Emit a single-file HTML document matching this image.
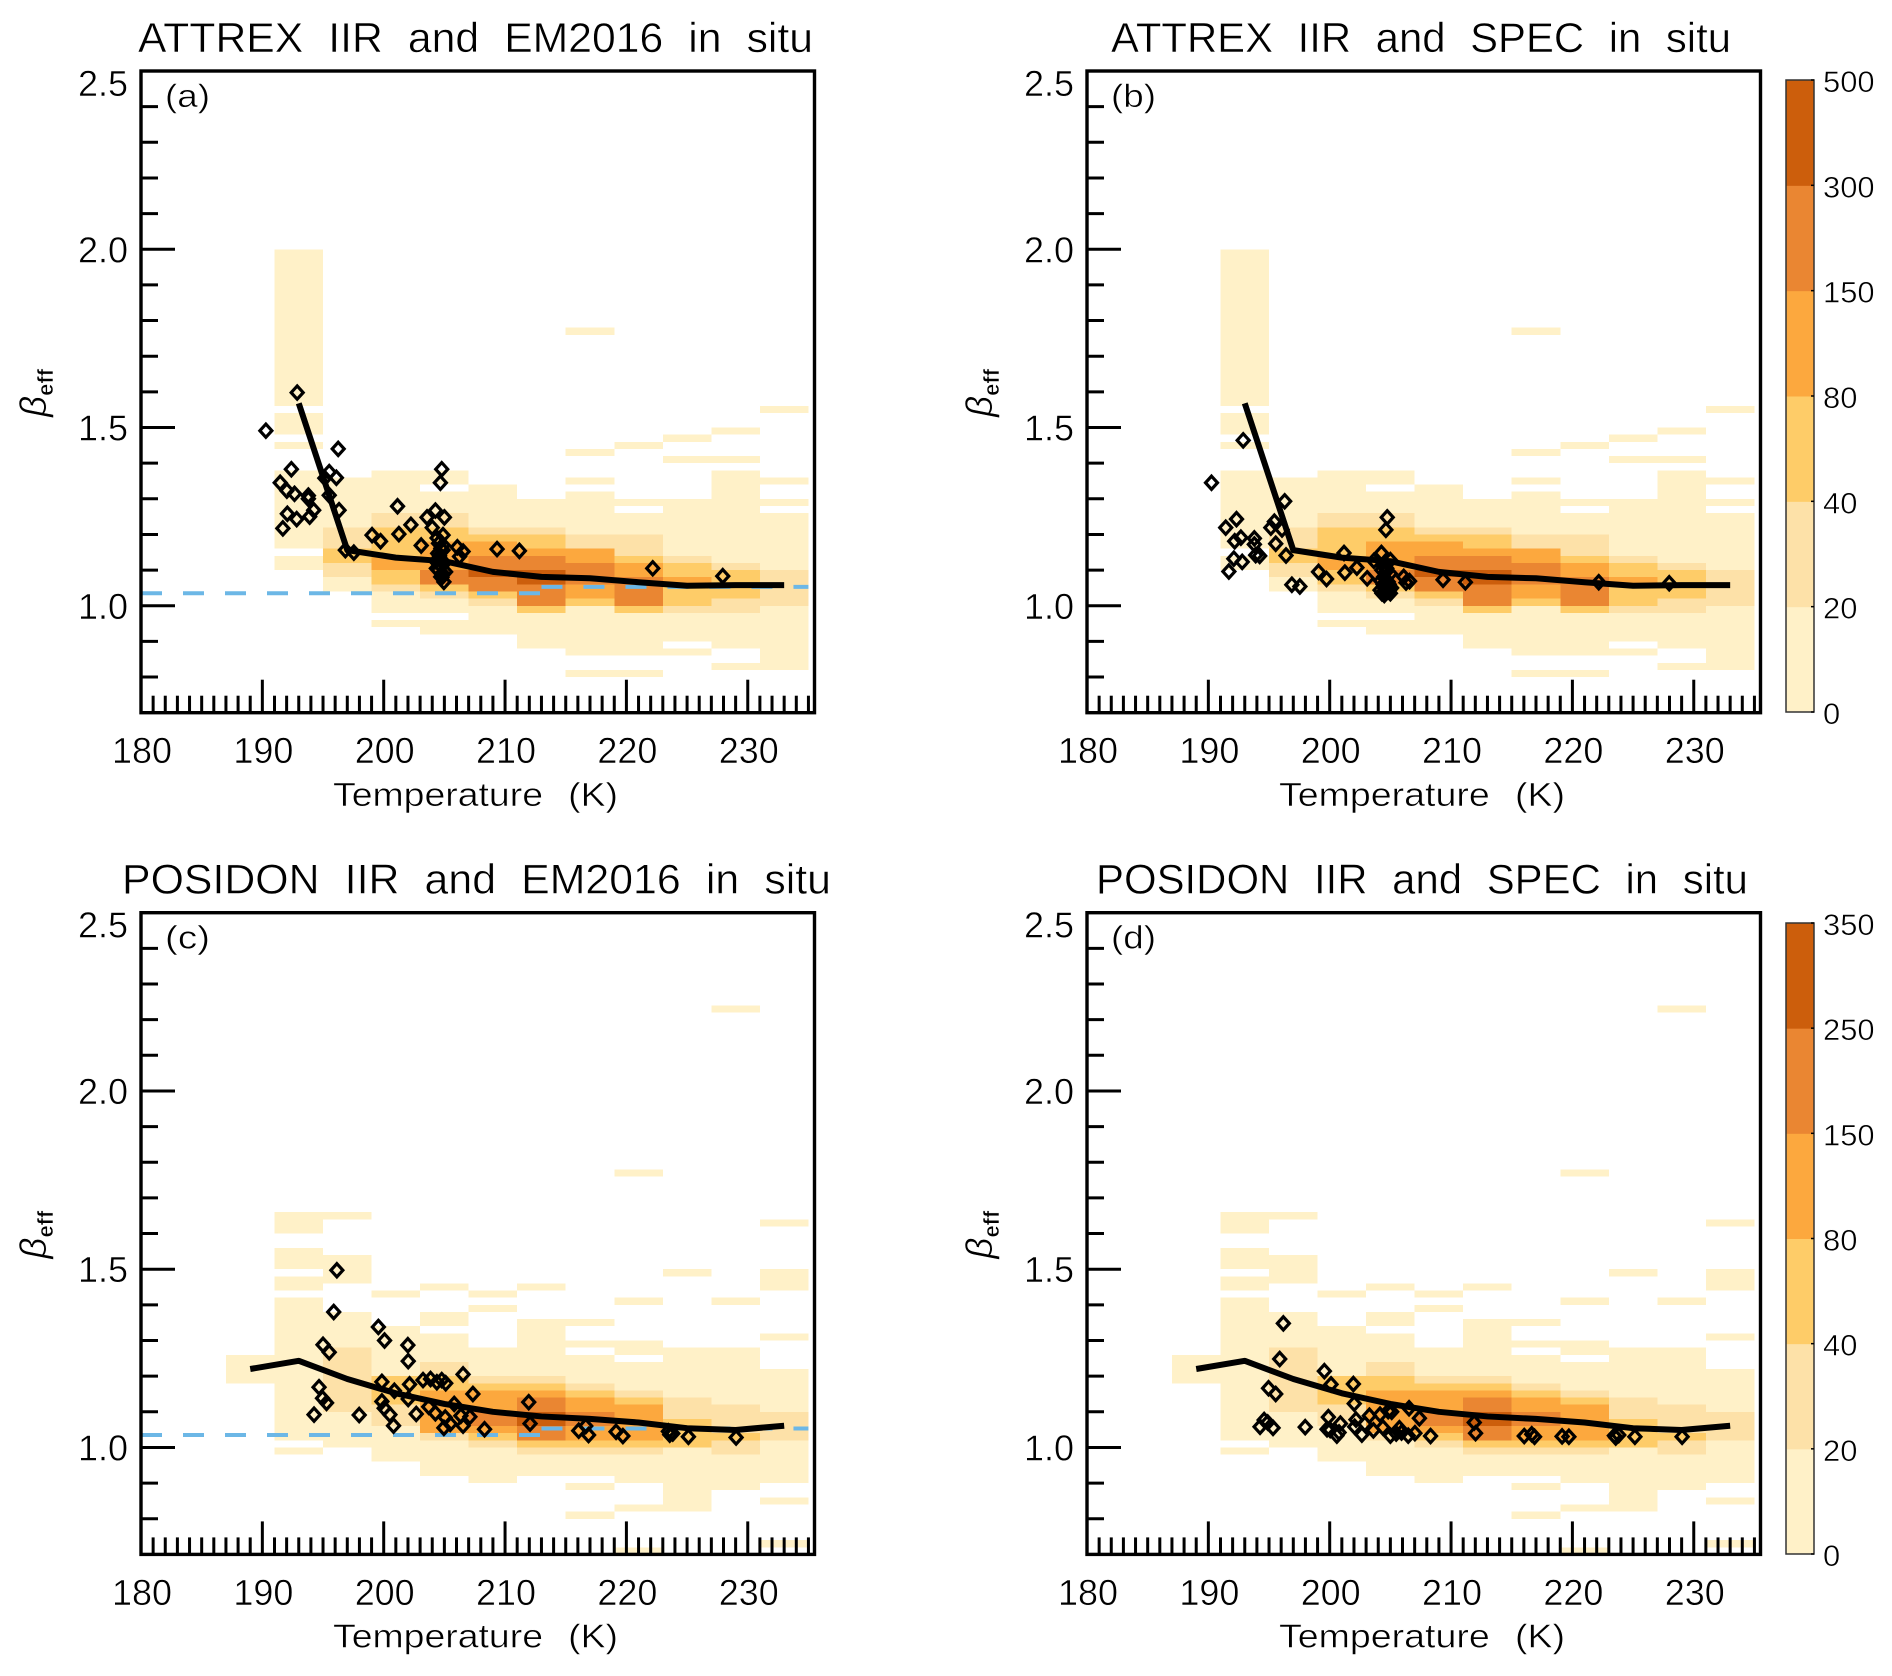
<!DOCTYPE html>
<html lang="en">
<head>
<meta charset="utf-8">
<title>ATTREX and POSIDON IIR and in situ effective beta versus temperature</title>
<style>
html,body{margin:0;padding:0;background:#fff;}
svg{display:block;}
text{font-family:"Liberation Sans",sans-serif;fill:#000;stroke:#fff;stroke-width:.5;paint-order:normal;}
.wide{word-spacing:13px;}
</style>
</head>
<body>
<svg id="figure" width="1892" height="1676" viewBox="0 0 1892 1676" xmlns="http://www.w3.org/2000/svg">
  <rect x="0" y="0" width="1892" height="1676" fill="#fff"/>

  <g id="panel-a"></g>
  <g id="panel-b"></g>
  <g id="panel-c"></g>
  <g id="panel-d"></g>
  <g id="colorbar-attrex"></g>
  <g id="colorbar-posidon"></g>

  <text class="wide" x="138" y="52" font-size="42" textLength="675" lengthAdjust="spacingAndGlyphs">ATTREX IIR and EM2016 in situ</text>
  <text class="wide" x="1111" y="52" font-size="42" textLength="620" lengthAdjust="spacingAndGlyphs">ATTREX IIR and SPEC in situ</text>
  <text class="wide" x="122" y="893.7" font-size="42" textLength="709" lengthAdjust="spacingAndGlyphs">POSIDON IIR and EM2016 in situ</text>
  <text class="wide" x="1096" y="893.7" font-size="42" textLength="652" lengthAdjust="spacingAndGlyphs">POSIDON IIR and SPEC in situ</text>

  <text x="165" y="107" font-size="32" textLength="45" lengthAdjust="spacingAndGlyphs">(a)</text>
  <text x="1111" y="107" font-size="32" textLength="45" lengthAdjust="spacingAndGlyphs">(b)</text>
  <text x="165" y="948.7" font-size="32" textLength="45" lengthAdjust="spacingAndGlyphs">(c)</text>
  <text x="1111" y="948.7" font-size="32" textLength="45" lengthAdjust="spacingAndGlyphs">(d)</text>

  <text class="wide" x="333" y="806" font-size="33" textLength="285" lengthAdjust="spacingAndGlyphs">Temperature (K)</text>
  <text class="wide" x="1279" y="806" font-size="33" textLength="286" lengthAdjust="spacingAndGlyphs">Temperature (K)</text>
  <text class="wide" x="333" y="1647.7" font-size="33" textLength="285" lengthAdjust="spacingAndGlyphs">Temperature (K)</text>
  <text class="wide" x="1279" y="1647.7" font-size="33" textLength="286" lengthAdjust="spacingAndGlyphs">Temperature (K)</text>

  <text transform="translate(46 417) rotate(-90)" font-size="37"><tspan font-style="italic">β</tspan><tspan font-size="22" dy="7" font-weight="bold">eff</tspan></text>
  <text transform="translate(992 417) rotate(-90)" font-size="37"><tspan font-style="italic">β</tspan><tspan font-size="22" dy="7" font-weight="bold">eff</tspan></text>
  <text transform="translate(46 1258.7) rotate(-90)" font-size="37"><tspan font-style="italic">β</tspan><tspan font-size="22" dy="7" font-weight="bold">eff</tspan></text>
  <text transform="translate(992 1258.7) rotate(-90)" font-size="37"><tspan font-style="italic">β</tspan><tspan font-size="22" dy="7" font-weight="bold">eff</tspan></text>
</svg>

<script>
/* ---------- axis tick labels ---------- */
var xTickLabels = [180, 190, 200, 210, 220, 230];
var yTickLabels = ["1.0", "1.5", "2.0", "2.5"];

/* ---------- heatmap bins: lower edge of each 4 K temperature bin ---------- */
var attrexTempBins = [191, 195, 199, 203, 207, 211, 215, 219, 223, 227, 231];
var posidonTempBins = [187, 191, 195, 199, 203, 207, 211, 215, 219, 223, 227, 231];

/* each row: [beta upper, beta lower, pixel count] */
var attrexHeatRows = [
  [[2.00,1.56,10],[1.54,1.48,10],[1.46,1.44,10],[1.38,1.16,10],[1.14,1.10,10]],
  [[1.36,1.22,10],[1.22,1.16,30],[1.16,1.12,60],[1.12,1.08,30],[1.08,1.04,10]],
  [[1.38,1.26,10],[1.26,1.22,30],[1.22,1.14,60],[1.14,1.10,110],[1.10,1.06,60],[1.06,1.04,30],[1.04,0.98,10],[0.96,0.94,10]],
  [[1.38,1.34,10],[1.32,1.26,10],[1.26,1.22,30],[1.22,1.18,60],[1.18,1.10,110],[1.10,1.06,220],[1.06,1.04,60],[1.04,1.02,30],[1.02,0.98,10],[0.96,0.92,10]],
  [[1.34,1.22,10],[1.22,1.20,30],[1.20,1.18,60],[1.18,1.14,110],[1.14,1.10,220],[1.10,1.08,400],[1.08,1.04,220],[1.04,1.02,60],[1.02,1.00,30],[1.00,0.92,10]],
  [[1.30,1.22,10],[1.22,1.20,30],[1.20,1.16,60],[1.16,1.14,110],[1.14,1.10,220],[1.10,1.06,400],[1.06,1.00,220],[1.00,0.98,60],[0.98,0.88,10]],
  [[1.78,1.76,10],[1.44,1.42,10],[1.36,1.34,10],[1.32,1.20,10],[1.20,1.16,30],[1.16,1.12,110],[1.12,1.06,220],[1.06,1.02,110],[1.02,1.00,60],[1.00,0.86,10],[0.82,0.80,10]],
  [[1.46,1.44,10],[1.30,1.28,10],[1.26,1.20,10],[1.20,1.14,30],[1.14,1.12,60],[1.12,1.08,110],[1.08,1.00,220],[1.00,0.98,60],[0.98,0.86,10],[0.82,0.80,10]],
  [[1.48,1.46,10],[1.42,1.40,10],[1.30,1.14,10],[1.14,1.12,30],[1.12,1.08,60],[1.08,1.06,110],[1.06,1.00,60],[1.00,0.98,30],[0.98,0.90,10],[0.88,0.86,10]],
  [[1.50,1.48,10],[1.42,1.40,10],[1.38,1.12,10],[1.12,1.10,30],[1.10,1.02,60],[1.02,0.98,30],[0.98,0.88,10],[0.84,0.82,10]],
  [[1.56,1.54,10],[1.36,1.34,10],[1.30,1.28,10],[1.26,1.10,10],[1.10,1.00,30],[1.00,0.82,10]]
];

var posidonHeatRows = [
  [[1.26,1.18,10]],
  [[1.66,1.60,10],[1.56,1.50,10],[1.48,1.44,10],[1.42,1.02,10],[1.00,0.98,10]],
  [[1.66,1.64,10],[1.54,1.46,10],[1.38,1.28,10],[1.28,1.10,30],[1.10,1.00,10]],
  [[1.44,1.42,10],[1.34,1.20,10],[1.20,1.12,60],[1.12,1.06,30],[1.06,0.96,10]],
  [[1.46,1.44,10],[1.38,1.34,10],[1.32,1.24,10],[1.24,1.20,30],[1.20,1.16,60],[1.16,1.04,110],[1.04,1.02,30],[1.02,0.92,10]],
  [[1.44,1.42,10],[1.40,1.38,10],[1.28,1.20,10],[1.20,1.18,30],[1.18,1.16,60],[1.16,1.10,110],[1.10,1.06,200],[1.06,1.04,110],[1.04,1.02,60],[1.02,1.00,30],[1.00,0.90,10]],
  [[1.46,1.44,10],[1.36,1.20,10],[1.20,1.18,30],[1.18,1.16,60],[1.16,1.14,110],[1.14,1.10,200],[1.10,1.06,300],[1.06,1.02,200],[1.02,1.00,60],[1.00,0.98,30],[0.98,0.92,10]],
  [[1.36,1.34,10],[1.30,1.28,10],[1.26,1.18,10],[1.18,1.16,30],[1.16,1.14,60],[1.14,1.10,110],[1.10,1.06,200],[1.06,1.02,110],[1.02,1.00,60],[1.00,0.98,30],[0.98,0.92,10],[0.90,0.88,10],[0.82,0.80,10]],
  [[1.78,1.76,10],[1.42,1.40,10],[1.30,1.26,10],[1.24,1.16,10],[1.16,1.14,30],[1.14,1.12,60],[1.12,1.02,110],[1.02,1.00,60],[1.00,0.98,30],[0.98,0.90,10],[0.84,0.82,10],[0.72,0.70,10]],
  [[1.50,1.48,10],[1.28,1.14,10],[1.14,1.08,30],[1.08,1.00,60],[1.00,0.82,10]],
  [[2.24,2.22,10],[1.42,1.40,10],[1.28,1.12,10],[1.12,1.04,30],[1.04,1.02,60],[1.02,0.98,30],[0.98,0.88,10]],
  [[1.64,1.62,10],[1.50,1.44,10],[1.32,1.30,10],[1.22,1.10,10],[1.10,1.02,30],[1.02,0.90,10],[0.86,0.84,10],[0.74,0.72,10]]
];

/* ---------- colour scale levels ---------- */
var attrexLevels = [0, 20, 40, 80, 150, 300, 500];
var posidonLevels = [0, 20, 40, 80, 150, 250, 350];
var levelColors = ["#FFF1C8", "#FDE1A8", "#FECC68", "#FCA83E", "#EA8632", "#CC5E0C"];

/* ---------- mean lines ---------- */
var attrexLineTemps = [193, 197, 201, 205, 209, 213, 217, 221, 225, 229, 233];
var attrexLineBetas = [1.568, 1.156, 1.135, 1.125, 1.095, 1.081, 1.077, 1.066, 1.056, 1.058, 1.058];
var posidonLineTemps = [189, 193, 197, 201, 205, 209, 213, 217, 221, 225, 229, 233];
var posidonLineBetas = [1.22, 1.243, 1.192, 1.152, 1.122, 1.10, 1.087, 1.08, 1.07, 1.054, 1.049, 1.061];

/* ---------- blue dashed reference line (two pieces) ---------- */
var dashedTempsLow = [180, 213];
var dashedBetasLow = [1.035, 1.035];
var dashedTempsHigh = [213, 235];
var dashedBetasHigh = [1.053, 1.053];

/* ---------- in situ scatter points ---------- */
var pointsATemps = [192.87,190.29,196.25,192.39,191.47,195.51,195.15,196.10,192.02,192.65,193.79,193.79,195.51,196.32,194.23,192.06,193.90,192.83,191.69,201.14,199.04,199.74,201.25,202.24,203.09,203.57,204.26,205.0,204.0,204.78,204.67,204.89,204.52,204.71,204.45,204.63,204.52,204.34,204.82,204.96,204.7,204.89,206.07,206.54,206.25,209.34,211.18,222.17,227.94,196.84,197.54,204.4,204.9,204.6,205.0,204.5,204.8,204.3,205.1];
var pointsABetas = [1.598,1.491,1.440,1.383,1.345,1.375,1.358,1.359,1.323,1.314,1.309,1.300,1.310,1.268,1.268,1.258,1.250,1.243,1.217,1.279,1.198,1.181,1.201,1.227,1.169,1.248,1.267,1.248,1.219,1.383,1.345,1.198,1.175,1.161,1.147,1.133,1.119,1.105,1.091,1.067,1.081,1.156,1.164,1.152,1.138,1.159,1.154,1.105,1.083,1.156,1.149,1.19,1.17,1.14,1.12,1.10,1.08,1.125,1.095];

var pointsBTemps = [192.87,190.26,196.29,192.32,191.43,195.44,195.15,196.07,192.68,192.17,193.79,193.79,195.55,196.40,193.90,194.23,192.10,192.79,191.69,196.88,197.54,201.18,202.24,199.08,199.74,201.25,203.09,204.26,204.74,204.63,203.64,205,204.45,204.63,204.45,204.82,204.45,205,204.15,204.82,204.52,206.1,206.58,206.29,209.34,211.18,222.17,227.98,204.3,204.7,205.0,204.2,204.6,204.9,204.4,205.1,204.8,204.5,204.3];
var pointsBBetas = [1.464,1.345,1.293,1.243,1.219,1.236,1.219,1.214,1.191,1.181,1.189,1.172,1.174,1.141,1.142,1.140,1.132,1.123,1.096,1.059,1.054,1.148,1.107,1.095,1.075,1.093,1.077,1.148,1.248,1.213,1.126,1.128,1.11,1.095,1.081,1.067,1.053,1.035,1.044,1.049,1.039,1.081,1.069,1.065,1.073,1.066,1.066,1.063,1.10,1.105,1.09,1.07,1.075,1.06,1.06,1.05,1.04,1.03,1.035];

var pointsCTemps = [196.14,195.88,199.56,200.07,201.99,202.02,195.0,195.51,206.54,203.24,203.86,204.38,204.78,205.11,199.85,200.88,202.13,207.35,194.67,194.96,195.29,194.26,197.98,199.85,200.04,200.51,200.81,202.02,202.68,203.71,204.26,205.07,205.81,205.48,204.96,206.54,206.36,207.1,208.31,211.95,212.06,216.07,216.65,216.88,219.15,219.71,223.46,223.82,223.57,225.11,229.04];
var pointsCBetas = [1.497,1.380,1.338,1.300,1.287,1.242,1.288,1.267,1.205,1.189,1.192,1.183,1.189,1.180,1.184,1.159,1.177,1.150,1.169,1.138,1.125,1.092,1.091,1.129,1.110,1.092,1.061,1.136,1.094,1.114,1.096,1.084,1.122,1.066,1.055,1.061,1.089,1.086,1.051,1.127,1.067,1.047,1.06,1.035,1.044,1.032,1.045,1.039,1.036,1.03,1.028];

var pointsDTemps = [196.18,195.88,199.56,200.11,201.95,194.96,195.55,202.02,206.54,205.11,204.82,204.15,203.27,207.39,199.89,202.17,200.88,202.9,194.6,194.26,194.89,195.33,197.98,199.78,200.04,200.77,200.59,202.06,202.65,203.6,204.38,205,205.74,205.48,205.92,206.47,207.02,208.31,211.91,212.02,216.03,216.65,216.88,219.15,219.71,223.46,223.82,223.57,225.15,229.04];
var pointsDBetas = [1.348,1.248,1.214,1.177,1.178,1.166,1.150,1.123,1.11,1.10,1.102,1.092,1.089,1.082,1.085,1.078,1.067,1.066,1.077,1.058,1.07,1.055,1.057,1.051,1.049,1.042,1.033,1.058,1.036,1.048,1.056,1.033,1.054,1.039,1.042,1.033,1.040,1.032,1.07,1.04,1.032,1.037,1.03,1.031,1.03,1.033,1.035,1.028,1.03,1.03];

/* ---------- drawing ---------- */
var NS = "http://www.w3.org/2000/svg";
var X_MIN = 180, X_MAX = 235.5, Y_MIN = 0.7, Y_MAX = 2.5;
var PLOT_W = 673.5, PLOT_H = 641.7;

function make(tag, attrs, parent) {
  var el = document.createElementNS(NS, tag);
  for (var k in attrs) { el.setAttribute(k, attrs[k]); }
  parent.appendChild(el);
  return el;
}

function levelIndex(levels, count) {
  for (var i = 0; i < levels.length - 1; i++) {
    if (count < levels[i + 1]) { return i; }
  }
  return levels.length - 2;
}

function drawPanel(opts) {
  var g = document.getElementById(opts.id);
  var left = opts.left, top = opts.top;
  var bottom = top + PLOT_H, right = left + PLOT_W;
  function xs(t) { return left + (t - X_MIN) / (X_MAX - X_MIN) * PLOT_W; }
  function ys(b) { return bottom - (b - Y_MIN) / (Y_MAX - Y_MIN) * PLOT_H; }

  /* heatmap */
  var heat = make("g", {"shape-rendering": "crispEdges"}, g);
  
  
  opts.bins.forEach(function (t, c) {
    opts.rows[c].forEach(function (r) {
      var cell = make("rect", {
        x: xs(t), y: ys(r[0]),
        width: xs(t + 4) - xs(t), height: ys(r[1]) - ys(r[0]),
        fill: levelColors[levelIndex(opts.levels, r[2])]
      }, heat);
      
      
    });
  });

  /* dashed reference */
  if (opts.dashed) {
    [[dashedTempsLow, dashedBetasLow], [dashedTempsHigh, dashedBetasHigh]].forEach(function (d) {
      var line = make("line", {
        x1: xs(d[0][0]), y1: ys(d[1][0]), x2: xs(d[0][1]), y2: ys(d[1][1]),
        stroke: "#6CB7E6", "stroke-width": 4, "stroke-dasharray": "21 21"
      }, g);
      
      
    });
  }

  /* mean line */
  var pts = opts.lineT.map(function (t, i) { return xs(t) + "," + ys(opts.lineB[i]); }).join(" ");
  var mean = make("polyline", {points: pts, fill: "none", stroke: "#000", "stroke-width": 6, "stroke-linejoin": "round"}, g);
  
  

  /* scatter diamonds */
  opts.ptT.forEach(function (t, i) {
    var cx = xs(t), cy = ys(opts.ptB[i]), h = 6;
    var d = make("polygon", {
      points: cx + "," + (cy - h - .6) + " " + (cx + h) + "," + cy + " " + cx + "," + (cy + h + .6) + " " + (cx - h) + "," + cy,
      fill: "none", stroke: "#000", "stroke-width": 3.2
    }, g);
    
    
  });

  /* x ticks */
  for (var t = 181; t < X_MAX; t++) {
    var major = t % 10 === 0;
    var tick = make("line", {x1: xs(t), x2: xs(t), y1: bottom, y2: bottom - (major ? 33 : 17), stroke: "#000", "stroke-width": 3}, g);
    
    
  }
  xTickLabels.forEach(function (v) {
    var lab = make("text", {x: xs(v) + 1 - 30, y: bottom + 50.5, "font-size": 36, textLength: 60, lengthAdjust: "spacingAndGlyphs"}, g);
    lab.textContent = v;
    
    
  });

  /* y ticks */
  for (var n = 8; n < 25; n++) {
    var val = n / 10;
    var isMajor = n % 5 === 0;
    var yt = make("line", {x1: left, x2: left + (isMajor ? 34 : 17), y1: ys(val), y2: ys(val), stroke: "#000", "stroke-width": 3}, g);
    
    
  }
  yTickLabels.forEach(function (v) {
    var b = parseFloat(v);
    var off = b === 2.5 ? 25 : 13;
    var lab = make("text", {x: left - 13, y: ys(b) + off, "font-size": 36, "text-anchor": "end"}, g);
    lab.textContent = v;
    
    
  });

  /* frame */
  var frame = make("rect", {x: left, y: top, width: right - left, height: bottom - top, fill: "none", stroke: "#000", "stroke-width": 3.4}, g);
  
  
}

function drawColorbar(id, levels, top, bottom) {
  var g = document.getElementById(id);
  var left = 1786, w = 28;
  var band = (bottom - top) / (levels.length - 1);
  for (var i = 0; i < levels.length - 1; i++) {
    var b = make("rect", {x: left, y: bottom - band * (i + 1), width: w, height: band + .5, fill: levelColors[i]}, g);
    
    
  }
  var frame = make("rect", {x: left, y: top, width: w, height: bottom - top, fill: "none", stroke: "#333", "stroke-width": 1.5}, g);
  
  
  levels.forEach(function (v, i) {
    var y = bottom - band * i;
    var tick = make("line", {x1: left + w - 3, x2: left + w, y1: y, y2: y, stroke: "#000", "stroke-width": 1.5}, g);
    
    
    var lab = make("text", {x: 1823, y: y + 12, "font-size": 30, textLength: String(v).length * 17.2, lengthAdjust: "spacingAndGlyphs"}, g);
    lab.textContent = v;
    
    
  });
}

drawPanel({id: "panel-a", left: 141, top: 71, bins: attrexTempBins, rows: attrexHeatRows, levels: attrexLevels, lineT: attrexLineTemps, lineB: attrexLineBetas, ptT: pointsATemps, ptB: pointsABetas, dashed: true});
drawPanel({id: "panel-b", left: 1087, top: 71, bins: attrexTempBins, rows: attrexHeatRows, levels: attrexLevels, lineT: attrexLineTemps, lineB: attrexLineBetas, ptT: pointsBTemps, ptB: pointsBBetas, dashed: false});
drawPanel({id: "panel-c", left: 141, top: 912.7, bins: posidonTempBins, rows: posidonHeatRows, levels: posidonLevels, lineT: posidonLineTemps, lineB: posidonLineBetas, ptT: pointsCTemps, ptB: pointsCBetas, dashed: true});
drawPanel({id: "panel-d", left: 1087, top: 912.7, bins: posidonTempBins, rows: posidonHeatRows, levels: posidonLevels, lineT: posidonLineTemps, lineB: posidonLineBetas, ptT: pointsDTemps, ptB: pointsDBetas, dashed: false});
drawColorbar("colorbar-attrex", attrexLevels, 80, 712);
drawColorbar("colorbar-posidon", posidonLevels, 923, 1554);
</script>
</body>
</html>
